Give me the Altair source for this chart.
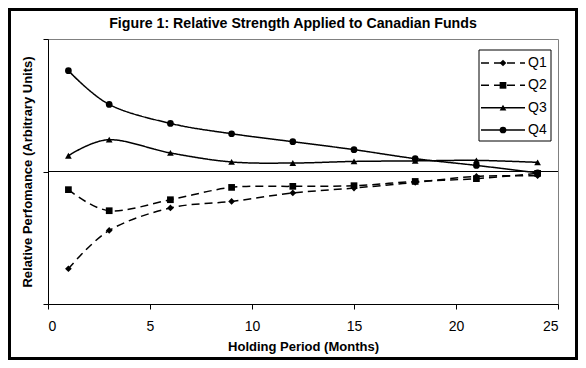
import altair as alt
import pandas as pd

# ---- data ----
months = [1, 3, 6, 9, 12, 15, 18, 21, 24]
q1 = [-0.734, -0.445, -0.275, -0.226, -0.162, -0.125, -0.082, -0.037, -0.032]
q2 = [-0.137, -0.296, -0.213, -0.120, -0.112, -0.107, -0.075, -0.054, -0.014]
q3 = [0.119, 0.240, 0.140, 0.072, 0.064, 0.076, 0.080, 0.084, 0.069]
q4 = [0.761, 0.506, 0.363, 0.285, 0.225, 0.165, 0.097, 0.046, -0.010]
series_names = ["Q1", "Q2", "Q3", "Q4"]
x_ticks = [0, 5, 10, 15, 20, 25]
y_ticks = [-1, 0, 1]
baseline = [0]
title_text = ["Figure 1: Relative Strength Applied to Canadian Funds"]

rows = []
for name, vals in zip(series_names, [q1, q2, q3, q4]):
    for m, v in zip(months, vals):
        rows.append({"series": name, "month": m, "value": v})
df = pd.DataFrame(rows)
legend_df = pd.DataFrame({"series": series_names})

FONT = "Liberation Sans"
W, H = 510, 265
PAD = {"left": 40, "top": 31, "right": 20, "bottom": 56}

shape_scale = alt.Scale(domain=series_names, range=["diamond", "square", "triangle-up", "circle"])
size_scale = alt.Scale(domain=series_names, range=[45, 45, 22, 55])
dash_scale = alt.Scale(domain=series_names, range=[[8, 5], [8, 5], [1, 0], [1, 0]])
width_scale = alt.Scale(domain=series_names, range=[1.5, 1.5, 1, 1])

x_enc = alt.X("month:Q", scale=alt.Scale(domain=[0, 25], nice=False),
              axis=alt.Axis(values=x_ticks, title="Holding Period (Months)"))
y_enc = alt.Y("value:Q", scale=alt.Scale(domain=[-1, 1], nice=False),
              axis=alt.Axis(values=y_ticks, labels=False,
                            title="Relative Perfomance (Arbitrary Units)"))

base = alt.Chart(df)
lines = base.mark_line(color="black", interpolate="cardinal").encode(
    x=x_enc, y=y_enc,
    strokeDash=alt.StrokeDash("series:N", scale=dash_scale, legend=None),
    strokeWidth=alt.StrokeWidth("series:N", scale=width_scale, legend=None),
    detail="series:N",
)
points = base.mark_point(filled=True, color="black", opacity=1).encode(
    x=x_enc, y=y_enc,
    shape=alt.Shape("series:N", scale=shape_scale, legend=None),
    size=alt.Size("series:N", scale=size_scale, legend=None),
)
zero = alt.Chart(pd.DataFrame({"value": baseline})).mark_rule(color="black", strokeWidth=1).encode(
    y=alt.Y("value:Q")
)
main = alt.layer(zero, lines, points)

# ---- frame, title and legend ----
one = pd.DataFrame({"a": [0]})
frame = alt.Chart(one).mark_rect(fill="transparent", stroke="black", strokeWidth=3).encode(
    x=alt.value(-PAD["left"] + 1.5), x2=alt.value(W + PAD["right"] - 1.5),
    y=alt.value(-PAD["top"] + 1.5), y2=alt.value(H + PAD["bottom"] - 1.5),
)
title = alt.Chart(pd.DataFrame({"t": title_text})).mark_text(
    align="center", baseline="alphabetic", font=FONT, fontSize=14.2, fontWeight="bold", color="black"
).encode(x=alt.value(245), y=alt.value(-11), text="t:N")

box = alt.Chart(one).mark_rect(fill="white", stroke="black", strokeWidth=1).encode(
    x=alt.value(431), x2=alt.value(503), y=alt.value(11), y2=alt.value(102),
)
leg_y = alt.Y("series:N", scale=alt.Scale(type="point", domain=series_names, range=[24, 91], padding=0), axis=None)
leg = alt.Chart(legend_df)
leg_rules = leg.mark_rule(color="black").encode(
    x=alt.value(433), x2=alt.value(477), y=leg_y,
    strokeDash=alt.StrokeDash("series:N", scale=dash_scale, legend=None),
    strokeWidth=alt.StrokeWidth("series:N", scale=width_scale, legend=None),
)
leg_points = leg.mark_point(filled=True, color="black", opacity=1).encode(
    x=alt.value(455), y=leg_y,
    shape=alt.Shape("series:N", scale=shape_scale, legend=None),
    size=alt.Size("series:N", scale=size_scale, legend=None),
)
leg_text = leg.mark_text(align="left", baseline="middle", font=FONT, fontSize=14, color="black").encode(
    x=alt.value(480), y=leg_y, text="series:N",
)
legend = alt.layer(frame, title, box, leg_rules, leg_points, leg_text)

chart = alt.layer(main, legend).resolve_scale(y="independent").properties(
    width=W, height=H,
    padding=PAD,
    autosize=alt.AutoSizeParams(type="none"),
    background="white",
).configure_view(
    stroke="#808080", strokeWidth=1, fill="white"
).configure_axis(
    grid=False, domainColor="black", domainWidth=1, tickColor="black", tickSize=5, tickWidth=1,
    labelFont=FONT, labelFontSize=14, labelColor="black",
    titleFont=FONT, titleFontSize=13, titleFontWeight="bold", titleColor="black",
    zindex=1,
).configure_axisX(
    labelPadding=10, titlePadding=7,
).configure_axisY(
    titlePadding=8,
)

chart.save("out.html", embed_options={"renderer": "svg", "actions": False})
